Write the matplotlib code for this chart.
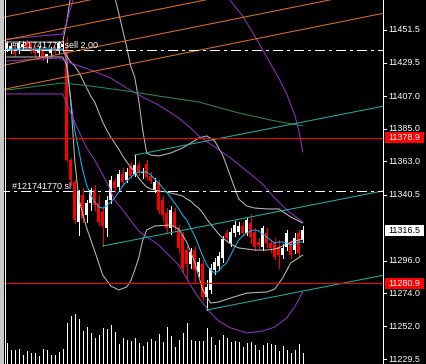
import numpy as np
import matplotlib
matplotlib.use('Agg')
import matplotlib.pyplot as plt
from matplotlib import transforms
from matplotlib.patches import Rectangle
from matplotlib.lines import Line2D

plt.rcParams['font.family'] = ['Liberation Sans', 'DejaVu Sans']
plt.rcParams['lines.scale_dashes'] = False

# ---- candles (75 bars) ----
opens = [11439, 11438, 11438, 11438, 11440, 11443, 11443, 11439, 11436, 11438,
         11433, 11436, 11440, 11438, 11440, 11440, 11364, 11349.0, 11322.1, 11340.3,
         11326.8, 11334.9, 11343.7, 11334.9, 11328.8, 11318.0, 11336.9, 11349.7, 11345.7, 11354.4,
         11350.4, 11359.8, 11354.4, 11360.5, 11355.1, 11361.2, 11353.1, 11343.7, 11348.4, 11336.9,
         11328.2, 11318.0, 11328.8, 11318.0, 11313.3, 11303.2, 11293.8, 11303.2, 11288.4, 11293.8,
         11271.6, 11276.3, 11289.7, 11292.4, 11297.8, 11314.7, 11307.9, 11314.7, 11315.4, 11319.4,
         11314.7, 11321.4, 11315.4, 11308.6, 11305.2, 11314.7, 11308.0, 11308.0, 11305.2, 11299.8,
         11305.2, 11308.0, 11303.2, 11314.7, 11309.9]
highs = [11444, 11443, 11440, 11444, 11444, 11445, 11444, 11441, 11440, 11439,
         11435, 11440, 11441, 11444, 11444, 11447, 11365.2, 11350.4, 11343.7, 11345.0,
         11336.9, 11345.0, 11347.0, 11340.3, 11331.5, 11339.6, 11353.1, 11351.7, 11357.1, 11358.5,
         11358.5, 11362.5, 11367.2, 11362.5, 11358.5, 11363.9, 11355.8, 11351.7, 11350.4, 11339.6,
         11331.5, 11332.9, 11331.5, 11320.1, 11315.4, 11305.9, 11304.6, 11305.9, 11297.8, 11296.5,
         11283.0, 11293.8, 11297.8, 11301.9, 11312.7, 11316.7, 11318.0, 11322.7, 11322.1, 11322.1,
         11324.8, 11327.5, 11318.0, 11311.3, 11319.4, 11318.0, 11309.9, 11311.3, 11309.9, 11307.3,
         11316.7, 11309.9, 11314.7, 11316.7, 11319.4]
lows = [11437, 11436, 11434, 11436, 11438, 11438, 11436, 11434, 11434, 11431,
        11430, 11434, 11436, 11436, 11438, 11363, 11347.0, 11321.4, 11313.3, 11322.1,
        11322.1, 11330.2, 11330.2, 11320.1, 11305.9, 11312.7, 11334.9, 11342.3, 11343.7, 11346.4,
        11349.0, 11351.7, 11353.1, 11353.8, 11351.7, 11350.4, 11348.4, 11342.3, 11328.2, 11323.4,
        11315.4, 11314.0, 11316.7, 11301.9, 11288.4, 11284.4, 11291.1, 11281.7, 11285.7, 11269.5,
        11262.8, 11274.2, 11287.0, 11289.7, 11295.1, 11308.6, 11305.9, 11312.7, 11314.0, 11312.7,
        11313.3, 11308.0, 11303.2, 11304.6, 11303.2, 11305.2, 11301.9, 11297.2, 11291.1, 11297.8,
        11303.2, 11297.8, 11301.2, 11299.2, 11308.6]
closes = [11443, 11441, 11435, 11443, 11442, 11439, 11437, 11436, 11438, 11433,
          11435, 11439, 11437, 11443, 11442, 11364, 11350.4, 11323.4, 11342.3, 11324.8,
          11334.9, 11343.7, 11333.5, 11322.1, 11319.4, 11336.9, 11350.4, 11345.0, 11354.4, 11349.0,
          11355.8, 11353.1, 11360.5, 11355.8, 11355.8, 11352.4, 11349.7, 11349.0, 11330.2, 11326.8,
          11318.0, 11330.2, 11319.4, 11304.6, 11291.1, 11293.8, 11301.9, 11289.7, 11295.1, 11271.6,
          11278.3, 11291.1, 11295.1, 11299.2, 11310.6, 11311.3, 11315.4, 11320.1, 11319.4, 11314.7,
          11323.4, 11312.0, 11305.2, 11306.6, 11318.0, 11308.0, 11304.6, 11298.5, 11299.8, 11304.6,
          11314.7, 11299.8, 11311.3, 11301.2, 11316.5]
volumes = [210, 140, 140, 150, 90, 130, 110, 110, 80, 150,
           140, 90, 90, 120, 150, 410, 480, 500, 450, 330,
           370, 310, 260, 290, 360, 350, 390, 320, 200, 260,
           240, 230, 260, 210, 180, 220, 250, 230, 300, 220,
           370, 280, 170, 240, 310, 410, 240, 230, 230, 230,
           360, 270, 190, 240, 290, 260, 220, 230, 220, 170,
           210, 220, 190, 140, 190, 210, 200, 190, 130, 180,
           140, 110, 140, 200, 110]

# ---- indicators (bar index, price) ----
ma_bars = [0, 14, 15, 16, 17, 18, 19, 20, 21, 22, 23, 24, 25, 26, 27, 28, 29, 30, 31, 32,
           33, 35, 36, 37, 38, 39, 40, 42, 44, 45, 46, 47, 48, 49, 50, 51, 52, 53, 54, 55,
           56, 57, 58, 59, 60, 61, 62, 63, 64, 65, 66, 67, 68, 69, 70, 71, 72, 73, 74]
ma_vals = [11438.7, 11438.7, 11431.3, 11404.3, 11384.1, 11370.6, 11357.1, 11347.0, 11340.3, 11335.6,
           11332.2, 11331.5, 11332.9, 11335.6, 11338.3, 11342.3, 11346.4, 11349.7, 11352.4, 11354.4,
           11355.8, 11355.8, 11353.8, 11351.1, 11348.4, 11345.0, 11342.3, 11334.9, 11326.8, 11323.4,
           11318.0, 11312.7, 11305.9, 11299.2, 11293.1, 11289.7, 11287.7, 11289.1, 11292.4, 11294.5,
           11299.8, 11305.2, 11309.9, 11312.7, 11314.7, 11316.0, 11316.7, 11316.0, 11314.0, 11312.0,
           11309.9, 11308.0, 11308.6, 11308.6, 11308.0, 11306.6, 11307.3, 11308.6, 11308.6]

bb_mid_bars = [0, 14, 15, 16, 17, 18, 19, 20, 21, 22, 23, 24, 25, 26, 27, 28, 29, 30, 31, 32,
               33, 34, 35, 36, 37, 38, 40, 42, 44, 45, 46, 47, 48, 49, 50, 51, 52, 53, 54, 55,
               56, 57, 58, 60, 62, 65, 67, 68, 70, 72, 74]
bb_mid_vals = [11438.0, 11438.0, 11434.0, 11429.9, 11427.2, 11423.2, 11417.8, 11412.4, 11407.0, 11403.0,
               11396.2, 11389.5, 11384.1, 11379.4, 11375.3, 11371.3, 11366.6, 11362.5, 11359.2, 11355.8,
               11351.7, 11348.4, 11345.7, 11344.3, 11343.7, 11343.0, 11342.3, 11341.0, 11339.6, 11337.6,
               11336.2, 11333.5, 11331.5, 11328.2, 11324.1, 11320.7, 11317.4, 11314.0, 11311.3, 11309.3,
               11307.3, 11305.9, 11304.6, 11303.9, 11303.2, 11303.2, 11303.9, 11304.6, 11307.3, 11309.3,
               11310.6]
bb_up_bars = [0, 14, 15, 16, 17, 20, 24, 26, 27, 28, 29, 30, 31, 32, 33, 34, 35, 36, 38, 41,
              44, 46, 48, 50, 52, 54, 56, 58, 60, 62, 65, 68, 71, 74]
bb_up_vals = [11443.4, 11443.4, 11456.9, 11475.0, 11485.0, 11498.0, 11492.0, 11479.8, 11473.7, 11462.9,
              11451.5, 11440.0, 11427.2, 11419.8, 11404.3, 11384.1, 11368.6, 11367.2, 11366.6, 11368.6,
              11372.0, 11375.3, 11378.7, 11380.1, 11376.7, 11367.2, 11352.4, 11337.6, 11332.9, 11331.5,
              11330.9, 11330.9, 11325.5, 11321.4]
bb_low_bars = [0, 14, 15, 16, 17, 18, 19, 20, 22, 24, 26, 28, 30, 31, 32, 33, 34, 35, 37, 41,
               43, 45, 47, 49, 51, 53, 56, 60, 65, 67, 69, 71, 74]
bb_low_vals = [11433.3, 11433.3, 11427.9, 11404.3, 11363.9, 11338.3, 11327.5, 11318.0, 11302.5, 11286.4,
               11279.0, 11276.3, 11278.3, 11282.3, 11289.7, 11297.8, 11309.9, 11316.7, 11319.4, 11320.1,
               11317.4, 11308.6, 11295.1, 11276.3, 11267.5, 11268.2, 11270.9, 11274.2, 11274.9, 11276.9,
               11284.4, 11294.5, 11299.8]

env_up_bars = [0, 14, 15, 16, 17, 18, 25, 40, 50, 55, 56, 59, 62, 65, 68, 70, 72, 73, 74]
env_up_vals = [11445.4, 11448.8, 11456.9, 11466.3, 11476.0, 11486.0, 11520.0, 11530.0, 11500.0, 11475.0,
               11471.0, 11460.9, 11447.4, 11433.3, 11419.1, 11408.4, 11394.2, 11384.1, 11369.3]
env_mid_bars = [0, 13, 16, 21, 26, 30, 34, 38, 43, 46, 48, 56, 64, 67, 70, 74]
env_mid_vals = [11430.6, 11432.6, 11429.2, 11424.5, 11419.1, 11412.4, 11406.3, 11400.9, 11392.2, 11385.4,
                11380.1, 11365.2, 11347.7, 11338.3, 11330.2, 11322.1]
env_low_bars = [0, 14, 15, 16, 18, 20, 22, 25, 27, 30, 33, 38, 43, 47, 49, 51, 53, 56, 60, 64,
                67, 70, 72, 74]
env_low_vals = [11408.4, 11408.4, 11402.3, 11395.6, 11383.4, 11372.0, 11363.9, 11349.0, 11336.9, 11326.8,
                11316.0, 11306.6, 11293.1, 11274.9, 11267.5, 11260.8, 11255.4, 11250.7, 11247.3, 11248.6,
                11251.3, 11257.4, 11264.8, 11274.9]

slow_bars = [0, 14, 21, 30, 38, 48, 58, 66, 74]
slow_vals = [11411.0, 11415.8, 11413.7, 11410.4, 11407.0, 11403.0, 11395.6, 11390.8, 11386.8]

# ---- objects ----
fan_start = [11460.5, 11444.9, 11428.1, 11411.9]   # price at bar 0
fan_slope = 0.54                                     # price per bar
channel_bars = [24, 32, 50]
channel_prices = [11305.9, 11367.2, 11262.8]
channel_slope = 0.53
level_prices = [11378.9, 11280.9]
order_prices = [11438.0, 11343.0]
order_texts = ['#121741770 sell 2.00', '#121741770 sl']
axis_prices = [11451.5, 11429.5, 11407.0, 11385.0, 11363.0, 11340.5,
               11296.0, 11274.0, 11252.0, 11229.5]
last_price = 11316.5

# ---- layout ----
W, H = 427, 364
PLOT_W = 383
X_LEFT = -6.7 / 4
X_RIGHT = (PLOT_W - 6.7) / 4
Y_LOW, Y_HIGH = 11226.4, 11471.7
PX = 0.72  # one pixel in points

fig = plt.figure(figsize=(W / 100, H / 100), dpi=100, facecolor='black')
rect = [0, 0, PLOT_W / W, 1]

bars = np.arange(len(opens))

# volumes in their own layer at the bottom
axv = fig.add_axes(rect)
axv.vlines(bars, 0, volumes, colors='white', lw=PX, antialiased=False)
axv.set_xlim(X_LEFT, X_RIGHT)
axv.set_ylim(0, 3640)
axv.axis('off')

ax = fig.add_axes(rect)
ax.set_xlim(X_LEFT, X_RIGHT)
ax.set_ylim(Y_LOW, Y_HIGH)
ax.axis('off')

# candles
for i in bars:
    o, h, l, c = opens[i], highs[i], lows[i], closes[i]
    col = 'white' if c >= o else '#ff0000'
    ax.vlines(i, l, h, colors=col, lw=PX, antialiased=False, zorder=2)
    ax.bar(i, max(abs(c - o), 0.7), bottom=min(o, c), width=0.7, color=col,
           linewidth=0, antialiased=False, zorder=2)

# indicators
ax.plot(ma_bars, ma_vals, color='#00bfff', lw=PX, zorder=3)
for b, v in [(bb_up_bars, bb_up_vals), (bb_mid_bars, bb_mid_vals), (bb_low_bars, bb_low_vals)]:
    ax.plot(b, v, color='#c0c0c0', lw=PX, zorder=3)
for b, v in [(env_up_bars, env_up_vals), (env_mid_bars, env_mid_vals), (env_low_bars, env_low_vals)]:
    ax.plot(b, v, color='#9932cc', lw=PX, zorder=3)
ax.plot(slow_bars, slow_vals, color='#2e8b57', lw=PX, zorder=3)

# fan lines
fx = np.array([X_LEFT - 2, X_RIGHT + 2])
for p0 in fan_start:
    ax.plot(fx, p0 + fan_slope * fx, color='#e0741e', lw=PX, zorder=3)

# channel rays
for b0, p0 in zip(channel_bars, channel_prices):
    cx = np.array([b0, X_RIGHT + 2])
    ax.plot(cx, p0 + channel_slope * (cx - b0), color='#20b2aa', lw=PX, zorder=4)

# horizontal levels
for p in level_prices:
    ax.axhline(p, color='#ff0000', lw=PX, antialiased=False, zorder=4)

# order lines with labels
blend_axd = transforms.blended_transform_factory(ax.transAxes, ax.transData)
for p, t in zip(order_prices, order_texts):
    ax.axhline(p, color='white', lw=PX, dashes=(6.5, 3, 1.5, 3), antialiased=False, zorder=4)
    ax.text(12 / PLOT_W, p + 1.4, t, transform=blend_axd, color='white',
            fontsize=6.5, va='baseline', ha='left', zorder=5)

# price axis on the right
blend_fd = transforms.blended_transform_factory(fig.transFigure, ax.transData)
fig.add_artist(Line2D([PLOT_W / W + 0.5 / W] * 2, [0, 1], color='white', lw=PX,
                      antialiased=False, transform=fig.transFigure))
for p in axis_prices:
    ax.plot([PLOT_W / W, (PLOT_W + 3) / W], [p, p], color='white', lw=PX,
            antialiased=False, transform=blend_fd, clip_on=False)
    ax.text(388 / W, p, '%.1f' % p, transform=blend_fd, color='white', fontsize=6.5,
            va='center', ha='left', clip_on=False)

box_h = 11 / 1.484
for p, face, fg in [(level_prices[0], '#ff0000', 'white'), (level_prices[1], '#ff0000', 'white'),
                    (last_price, 'white', 'black')]:
    ax.add_patch(Rectangle((385 / W, p - box_h / 2), 39 / W, box_h, transform=blend_fd,
                           facecolor=face, edgecolor='none', clip_on=False, zorder=6))
    ax.text(388 / W, p, '%.1f' % p, transform=blend_fd, color=fg, fontsize=6.5,
            va='center', ha='left', clip_on=False, zorder=7)

# window frame on the left
fig.add_artist(Rectangle((0, 0), 4 / W, 1, transform=fig.transFigure,
                         facecolor='#c8c8c8', edgecolor='none'))
fig.add_artist(Line2D([5.5 / W] * 2, [0, 1], color='white', lw=PX, antialiased=False,
                      transform=fig.transFigure))

fig.savefig('out.png', dpi=100, facecolor='black')
